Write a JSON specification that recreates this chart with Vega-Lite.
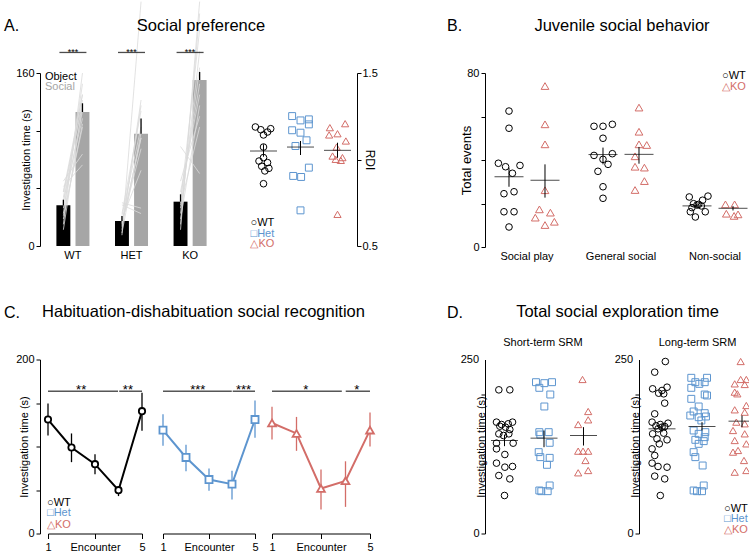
{
"$schema":"https://vega.github.io/schema/vega-lite/v6.json",
"padding":{"left":2,"top":0,"right":0,"bottom":0},
"config":{"font":"Liberation Sans","view":{"stroke":null},
"axis":{"grid":false,"domainColor":"#000","tickColor":"#000","labelColor":"#000","titleColor":"#000","labelFontSize":11,"titleFontSize":11,"titleFontWeight":"normal","tickSize":4,"labelPadding":2,"labelFlush":false,"labelOverlap":false,"labelBound":false,"labelFont":"Liberation Sans","titleFont":"Liberation Sans"},
"title":{"fontSize":16.5,"fontWeight":"normal","color":"#000","baseline":"alphabetic","frame":"group","offset":39,"font":"Liberation Sans"},
"text":{"font":"Liberation Sans","fontSize":11,"align":"left","baseline":"middle"}},
"datasets":{
"abar":[{"g":"WT","c":"Object","v":37.6,"hi":42.8},{"g":"WT","c":"Social","v":123.9,"hi":132},{"g":"HET","c":"Object","v":23.1,"hi":27.7},{"g":"HET","c":"Social","v":103.9,"hi":118},{"g":"KO","c":"Object","v":41,"hi":47.8},{"g":"KO","c":"Social","v":153.5,"hi":161}],
"alines":[
{"g":"WT","id":"w1","Object":20,"Social":160},{"g":"WT","id":"w2","Object":15,"Social":130},{"g":"WT","id":"w3","Object":30,"Social":150},{"g":"WT","id":"w4","Object":45,"Social":140},{"g":"WT","id":"w5","Object":55,"Social":75},{"g":"WT","id":"w6","Object":35,"Social":125},{"g":"WT","id":"w7","Object":60,"Social":85},{"g":"WT","id":"w8","Object":25,"Social":113},{"g":"WT","id":"w9","Object":40,"Social":135},{"g":"WT","id":"w10","Object":50,"Social":130},{"g":"WT","id":"w11","Object":28,"Social":110},{"g":"WT","id":"w12","Object":42,"Social":118},{"g":"WT","id":"w13","Object":50,"Social":140},
{"g":"HET","id":"h1","Object":10,"Social":226},{"g":"HET","id":"h2","Object":15,"Social":135},{"g":"HET","id":"h3","Object":20,"Social":100},{"g":"HET","id":"h4","Object":25,"Social":70},{"g":"HET","id":"h5","Object":30,"Social":125},{"g":"HET","id":"h6","Object":40,"Social":35},{"g":"HET","id":"h7","Object":38,"Social":30},{"g":"HET","id":"h8","Object":18,"Social":130},{"g":"HET","id":"h9","Object":22,"Social":90},{"g":"HET","id":"h10","Object":28,"Social":110},{"g":"HET","id":"h11","Object":12,"Social":105},{"g":"HET","id":"h12","Object":21,"Social":100},
{"g":"KO","id":"k1","Object":15,"Social":226},{"g":"KO","id":"k2","Object":20,"Social":215},{"g":"KO","id":"k3","Object":30,"Social":180},{"g":"KO","id":"k4","Object":35,"Social":165},{"g":"KO","id":"k5","Object":45,"Social":150},{"g":"KO","id":"k6","Object":50,"Social":140},{"g":"KO","id":"k7","Object":25,"Social":130},{"g":"KO","id":"k8","Object":60,"Social":120},{"g":"KO","id":"k9","Object":92,"Social":67},{"g":"KO","id":"k10","Object":40,"Social":200},{"g":"KO","id":"k11","Object":38,"Social":110}],
"rdi":[
{"g":"WT","j":-0.9,"v":1.188},{"g":"WT","j":0.8,"v":1.178},{"g":"WT","j":-0.3,"v":1.172},{"g":"WT","j":0.45,"v":1.159},{"g":"WT","j":0,"v":1.142},{"g":"WT","j":0,"v":1.072},{"g":"WT","j":0,"v":1.011},{"g":"WT","j":-0.5,"v":0.991},{"g":"WT","j":0.45,"v":0.982},{"g":"WT","j":-0.2,"v":0.961},{"g":"WT","j":0.6,"v":0.949},{"g":"WT","j":0.15,"v":0.934},{"g":"WT","j":0,"v":0.86},
{"g":"Het","j":-0.93,"v":1.251},{"g":"Het","j":0,"v":1.226},{"g":"Het","j":0.93,"v":1.232},{"g":"Het","j":0.93,"v":1.203},{"g":"Het","j":-0.93,"v":1.169},{"g":"Het","j":0,"v":1.155},{"g":"Het","j":0.67,"v":1.111},{"g":"Het","j":-0.56,"v":1.078},{"g":"Het","j":0.93,"v":0.953},{"g":"Het","j":-0.81,"v":0.905},{"g":"Het","j":0.07,"v":0.899},{"g":"Het","j":0,"v":0.706},
{"g":"KO","j":-0.85,"v":1.184},{"g":"KO","j":0.85,"v":1.207},{"g":"KO","j":-0.93,"v":1.142},{"g":"KO","j":0,"v":1.149},{"g":"KO","j":0.93,"v":1.107},{"g":"KO","j":-0.1,"v":1.072},{"g":"KO","j":-0.55,"v":1.02},{"g":"KO","j":0.55,"v":1.011},{"g":"KO","j":-0.2,"v":1.001},{"g":"KO","j":0.37,"v":0.995},{"g":"KO","j":0,"v":0.683}],
"rdim":[{"g":"WT","m":1.049,"lo":1.016,"hi":1.088},{"g":"Het","m":1.072,"lo":1.026,"hi":1.107},{"g":"KO","m":1.053,"lo":1.01,"hi":1.097}],
"bwt":[
{"b":"Social play","j":0,"v":62.5},{"b":"Social play","j":0,"v":54.6},{"b":"Social play","j":-0.59,"v":38.5},{"b":"Social play","j":-0.19,"v":36.9},{"b":"Social play","j":0.61,"v":37.5},{"b":"Social play","j":0.19,"v":33.9},{"b":"Social play","j":-0.28,"v":24.5},{"b":"Social play","j":0.28,"v":25.4},{"b":"Social play","j":-0.28,"v":16.2},{"b":"Social play","j":0.28,"v":16.2},{"b":"Social play","j":0,"v":9.2},
{"b":"General social","j":-0.5,"v":55.5},{"b":"General social","j":0,"v":55.5},{"b":"General social","j":0.52,"v":56.4},{"b":"General social","j":0,"v":50.0},{"b":"General social","j":-0.5,"v":42.1},{"b":"General social","j":0,"v":40.3},{"b":"General social","j":0.28,"v":38.0},{"b":"General social","j":0.52,"v":42.9},{"b":"General social","j":-0.28,"v":34.8},{"b":"General social","j":0,"v":27.7},{"b":"General social","j":0,"v":22.4},
{"b":"Non-social","j":-0.43,"v":23.0},{"b":"Non-social","j":0.61,"v":23.4},{"b":"Non-social","j":0.31,"v":21.5},{"b":"Non-social","j":-0.19,"v":19.9},{"b":"Non-social","j":0.09,"v":19.6},{"b":"Non-social","j":-0.37,"v":16.2},{"b":"Non-social","j":0.46,"v":16.2},{"b":"Non-social","j":-0.09,"v":13.8},{"b":"Non-social","j":0,"v":19.3},{"b":"Non-social","j":0.24,"v":18.9},{"b":"Non-social","j":-0.28,"v":18.1}],
"bko":[
{"b":"Social play","j":0,"v":74.0},{"b":"Social play","j":0,"v":56.4},{"b":"Social play","j":0,"v":47.2},{"b":"Social play","j":0,"v":26.1},{"b":"Social play","j":-0.31,"v":17.3},{"b":"Social play","j":0.3,"v":15.8},{"b":"Social play","j":-0.54,"v":13.5},{"b":"Social play","j":0,"v":10.1},{"b":"Social play","j":0.52,"v":11.6},
{"b":"General social","j":0,"v":64.1},{"b":"General social","j":0,"v":53.0},{"b":"General social","j":0,"v":47.2},{"b":"General social","j":0.43,"v":46.9},{"b":"General social","j":-0.22,"v":41.7},{"b":"General social","j":0.3,"v":36.5},{"b":"General social","j":-0.22,"v":36.9},{"b":"General social","j":0.3,"v":30.3},{"b":"General social","j":-0.22,"v":26.2},
{"b":"Non-social","j":-0.42,"v":19.6},{"b":"Non-social","j":0.09,"v":19.6},{"b":"Non-social","j":-0.37,"v":15.3},{"b":"Non-social","j":0.06,"v":14.3},{"b":"Non-social","j":0.28,"v":15.0}],
"bwm":[{"b":"Social play","m":32.3,"lo":27.7,"hi":36.5},{"b":"General social","m":42.5,"lo":38,"hi":45.7},{"b":"Non-social","m":18.9,"lo":17.9,"hi":19.9}],
"bkm":[{"b":"Social play","m":30.7,"lo":22.7,"hi":38},{"b":"General social","m":42.6,"lo":38.3,"hi":46},{"b":"Non-social","m":17.8,"lo":16.8,"hi":18.8}],
"cwt":[{"e":1,"m":131,"lo":112.6,"hi":149.4},{"e":2,"m":98.9,"lo":82,"hi":115},{"e":3,"m":79.7,"lo":68,"hi":91},{"e":4,"m":49.8,"lo":43,"hi":54},{"e":5,"m":140.6,"lo":118,"hi":161.7}],
"chet":[{"e":1,"m":118.8,"lo":100.8,"hi":137},{"e":2,"m":87.4,"lo":71.6,"hi":102},{"e":3,"m":62,"lo":49,"hi":74.7},{"e":4,"m":56.7,"lo":39,"hi":72},{"e":5,"m":131,"lo":110,"hi":153}],
"cko":[{"e":1,"m":127,"lo":108,"hi":145.6},{"e":2,"m":115,"lo":95,"hi":134},{"e":3,"m":51.7,"lo":27.6,"hi":73.6},{"e":4,"m":60.5,"lo":30.6,"hi":83},{"e":5,"m":118.8,"lo":100,"hi":139}],
"cswt":[{"x1":1,"x2":3.98,"xm":2.41,"s":"**"},{"x1":4.03,"x2":5,"xm":4.4,"s":"**"}],
"cshet":[{"x1":1,"x2":3.99,"xm":2.51,"s":"***"},{"x1":4.03,"x2":5,"xm":4.5,"s":"***"}],
"csko":[{"x1":1,"x2":3.85,"xm":2.38,"s":"*"},{"x1":4.01,"x2":5,"xm":4.46,"s":"*"}],
"d1":[
{"g":"WT","j":-0.63,"v":206.4},{"g":"WT","j":0.59,"v":206.4},{"g":"WT","j":-0.89,"v":160},{"g":"WT","j":0.89,"v":160},{"g":"WT","j":-0.33,"v":156.6},{"g":"WT","j":0.41,"v":157.6},{"g":"WT","j":0.11,"v":152.8},{"g":"WT","j":-0.52,"v":154.2},{"g":"WT","j":0.59,"v":149.4},{"g":"WT","j":-0.63,"v":143.2},{"g":"WT","j":0.48,"v":143.2},{"g":"WT","j":-0.11,"v":140.8},{"g":"WT","j":-0.89,"v":129.8},{"g":"WT","j":0.96,"v":129.8},{"g":"WT","j":-0.89,"v":121.6},{"g":"WT","j":0.04,"v":113.5},{"g":"WT","j":-0.89,"v":101.1},{"g":"WT","j":0.04,"v":95.3},{"g":"WT","j":0.89,"v":96.3},{"g":"WT","j":-0.63,"v":83.3},{"g":"WT","j":0.59,"v":78.5},{"g":"WT","j":0,"v":54.6},
{"g":"Het","j":-0.89,"v":217.4},{"g":"Het","j":0.04,"v":216},{"g":"Het","j":0.89,"v":217.4},{"g":"Het","j":-0.52,"v":209.3},{"g":"Het","j":0.7,"v":199.7},{"g":"Het","j":0.04,"v":182.5},{"g":"Het","j":-0.52,"v":145.6},{"g":"Het","j":0.52,"v":145.6},{"g":"Het","j":-0.41,"v":142.2},{"g":"Het","j":0.63,"v":130.3},{"g":"Het","j":-0.59,"v":116.9},{"g":"Het","j":-0.41,"v":109.7},{"g":"Het","j":0.63,"v":108.7},{"g":"Het","j":0.33,"v":98.7},{"g":"Het","j":0.63,"v":69},{"g":"Het","j":-0.52,"v":61.8},{"g":"Het","j":0.41,"v":60.8},{"g":"Het","j":-0.3,"v":60.8},
{"g":"KO","j":-0.11,"v":221.3},{"g":"KO","j":0.52,"v":175.3},{"g":"KO","j":0.52,"v":163.3},{"g":"KO","j":-0.59,"v":156.6},{"g":"KO","j":-0.59,"v":118.3},{"g":"KO","j":0.52,"v":118.3},{"g":"KO","j":-0.05,"v":118.3},{"g":"KO","j":0.22,"v":104.9},{"g":"KO","j":-0.59,"v":87.2},{"g":"KO","j":0.52,"v":90.5}],
"d1m":[{"g":"WT","m":133.6,"lo":125.5,"hi":142},{"g":"Het","m":137,"lo":124,"hi":148},{"g":"KO","m":140.8,"lo":126.4,"hi":152.8}],
"d2":[
{"g":"WT","j":0.37,"v":247.1},{"g":"WT","j":-0.81,"v":231.8},{"g":"WT","j":-1.04,"v":207.9},{"g":"WT","j":0.56,"v":210.2},{"g":"WT","j":0,"v":205.5},{"g":"WT","j":-0.37,"v":201.6},{"g":"WT","j":0.19,"v":200.7},{"g":"WT","j":0.3,"v":187.3},{"g":"WT","j":-0.81,"v":171.9},{"g":"WT","j":-1.1,"v":160},{"g":"WT","j":0.67,"v":158.5},{"g":"WT","j":-0.19,"v":156.6},{"g":"WT","j":-0.67,"v":154.7},{"g":"WT","j":0.3,"v":153.7},{"g":"WT","j":0,"v":152.8},{"g":"WT","j":-0.44,"v":150.4},{"g":"WT","j":-1.04,"v":143.2},{"g":"WT","j":0.19,"v":144.2},{"g":"WT","j":-0.56,"v":136},{"g":"WT","j":0.56,"v":134.6},{"g":"WT","j":-0.3,"v":128.8},{"g":"WT","j":-1.1,"v":121.6},{"g":"WT","j":-0.81,"v":112.1},{"g":"WT","j":-1.1,"v":101.1},{"g":"WT","j":0.56,"v":95.3},{"g":"WT","j":-0.44,"v":96.3},{"g":"WT","j":-0.81,"v":82.4},{"g":"WT","j":0.3,"v":78.5},{"g":"WT","j":-0.19,"v":54.6},
{"g":"Het","j":-1.19,"v":223.7},{"g":"Het","j":0.56,"v":223.7},{"g":"Het","j":-0.74,"v":217.4},{"g":"Het","j":0.3,"v":217.4},{"g":"Het","j":-0.3,"v":215},{"g":"Het","j":-1.19,"v":209.3},{"g":"Het","j":0.3,"v":199.7},{"g":"Het","j":0.56,"v":198.3},{"g":"Het","j":-1.19,"v":193.5},{"g":"Het","j":-0.37,"v":182.5},{"g":"Het","j":-0.93,"v":175.3},{"g":"Het","j":0.3,"v":172.9},{"g":"Het","j":-1.3,"v":169.5},{"g":"Het","j":0.44,"v":168.1},{"g":"Het","j":-0.37,"v":167.1},{"g":"Het","j":-0.07,"v":162.4},{"g":"Het","j":-0.93,"v":148},{"g":"Het","j":0.37,"v":145.6},{"g":"Het","j":-0.37,"v":143.2},{"g":"Het","j":0.3,"v":138.4},{"g":"Het","j":-0.74,"v":134.6},{"g":"Het","j":0.19,"v":132.7},{"g":"Het","j":-0.37,"v":128.8},{"g":"Het","j":-0.93,"v":116.9},{"g":"Het","j":-0.74,"v":109.7},{"g":"Het","j":0.07,"v":97.7},{"g":"Het","j":0.19,"v":69},{"g":"Het","j":-0.93,"v":61.8},{"g":"Het","j":0,"v":60.8},{"g":"Het","j":-0.56,"v":60.8},
{"g":"KO","j":-0.15,"v":247.1},{"g":"KO","j":-0.15,"v":221.3},{"g":"KO","j":0.48,"v":221.3},{"g":"KO","j":-0.81,"v":215},{"g":"KO","j":0.3,"v":214.1},{"g":"KO","j":-0.81,"v":203.1},{"g":"KO","j":-0.52,"v":200.7},{"g":"KO","j":0.48,"v":183.9},{"g":"KO","j":-0.81,"v":177.7},{"g":"KO","j":0.3,"v":174.3},{"g":"KO","j":-0.63,"v":160},{"g":"KO","j":0.3,"v":157.6},{"g":"KO","j":-1.0,"v":148},{"g":"KO","j":0.3,"v":143.2},{"g":"KO","j":-0.81,"v":133.6},{"g":"KO","j":0.48,"v":128.8},{"g":"KO","j":-0.44,"v":119.3},{"g":"KO","j":-1.0,"v":116.9},{"g":"KO","j":0.22,"v":104.9},{"g":"KO","j":-0.81,"v":88.1},{"g":"KO","j":0.48,"v":90.5}],
"d2m":[{"g":"WT","m":150.4,"lo":145.6,"hi":156.6},{"g":"Het","m":153.7,"lo":148,"hi":160},{"g":"KO","m":161.4,"lo":152.8,"hi":169.5}]
},
"spacing":42.5,
"resolve":{"scale":{"color":"independent","shape":"independent","size":"independent"}},
"vconcat":[
{"hconcat":[
{"width":38,"height":10,"data":{"values":[]},"mark":"point","title":{"text":"A.","anchor":"start","dx":2,"fontSize":16}},
{"width":183,"height":173,
 "layer":[
  {"data":{"name":"abar"},"mark":{"type":"bar"},
   "encoding":{
    "x":{"field":"g","type":"nominal","scale":{"type":"band","domain":["WT","HET","KO"],"paddingInner":0.436,"paddingOuter":0.28},"axis":{"title":null,"domain":false,"ticks":false,"labelAngle":0,"labelPadding":3,"labelOverlap":false}},
    "xOffset":{"field":"c","type":"nominal","scale":{"domain":["Object","Social"],"paddingInner":0.27,"paddingOuter":0}},
    "y":{"field":"v","type":"quantitative","scale":{"domain":[0,160],"nice":false},"axis":{"values":[0,53.333,106.667,160],"labelExpr":"datum.value==0||datum.value==160?datum.label:''","labelOverlap":false,"title":"Investigation time (s)","titlePadding":-16}},
    "color":{"field":"c","type":"nominal","scale":{"domain":["Object","Social"],"range":["#000000","#a6a6a6"]},"legend":null}}},
  {"data":{"name":"alines"},"transform":[{"fold":["Object","Social"],"as":["c","v"]}],"mark":{"type":"line","color":"#dadada","strokeWidth":0.8},
   "encoding":{"x":{"field":"g","type":"nominal"},"xOffset":{"field":"c","type":"nominal"},"y":{"field":"v","type":"quantitative"},"detail":{"field":"id"}}},
  {"data":{"name":"abar"},"mark":{"type":"rule","color":"black","strokeWidth":1.3},
   "encoding":{"x":{"field":"g","type":"nominal"},"xOffset":{"field":"c","type":"nominal"},"y":{"field":"v","type":"quantitative"},"y2":{"field":"hi"}}},
  {"data":{"values":[{"g":"WT"},{"g":"HET"},{"g":"KO"}]},"mark":{"type":"tick","color":"black","size":27,"thickness":1.3},
   "encoding":{"x":{"field":"g","type":"nominal"},"y":{"datum":179}}},
  {"data":{"values":[{"g":"WT"},{"g":"HET"},{"g":"KO"}]},"mark":{"type":"text","text":"***","fontSize":9,"align":"center","baseline":"alphabetic","dy":2.2},
   "encoding":{"x":{"field":"g","type":"nominal"},"y":{"datum":179}}},
  {"data":{"values":[{}]},"mark":{"type":"text","text":"Object","color":"black","dx":-28},"encoding":{"x":{"datum":"WT"},"y":{"datum":156}}},
  {"data":{"values":[{}]},"mark":{"type":"text","text":"Social","color":"#a6a6a6","dx":-28},"encoding":{"x":{"datum":"WT"},"y":{"datum":147}}}
 ]},
{"width":21,"height":10,"data":{"values":[]},"mark":"point","title":{"text":"Social preference","anchor":"middle","dx":-32.5}},
{"width":113,"height":173,
 "layer":[
  {"data":{"name":"rdi"},"mark":{"type":"point","filled":false,"strokeWidth":1,"opacity":1},
   "encoding":{
    "x":{"field":"g","type":"nominal","scale":{"type":"band","domain":["WT","Het","KO"],"paddingInner":0.514,"paddingOuter":0.284,"align":0.5},"axis":null},
    "xOffset":{"field":"j","type":"quantitative","scale":{"domain":[-1,1]}},
    "y":{"field":"v","type":"quantitative","scale":{"domain":[0.5,1.5],"nice":false,"zero":false},"axis":{"orient":"right","values":[0.5,1,1.5],"labelExpr":"datum.value==1?'':datum.label","labelOverlap":false,"title":"RDI","titleFontSize":12,"titlePadding":-15,"labelPadding":1}},
    "shape":{"field":"g","type":"nominal","scale":{"domain":["WT","Het","KO"],"range":["circle","square","triangle-up"]},"legend":null},
    "color":{"field":"g","type":"nominal","scale":{"domain":["WT","Het","KO"],"range":["#000000","#5d95cf","#d36d68"]},"legend":null},
    "size":{"field":"g","type":"ordinal","scale":{"domain":["WT","Het","KO"],"range":[44,52,60]},"legend":null}}},
  {"data":{"name":"rdim"},"mark":{"type":"tick","color":"black","size":27,"thickness":1},"encoding":{"x":{"field":"g","type":"nominal"},"y":{"field":"m","type":"quantitative"}}},
  {"data":{"name":"rdim"},"mark":{"type":"rule","color":"black","strokeWidth":1},"encoding":{"x":{"field":"g","type":"nominal"},"y":{"field":"lo","type":"quantitative"},"y2":{"field":"hi"}}},
  {"data":{"values":[{}]},"mark":{"type":"text","text":"○WT","color":"black","dx":-13},"encoding":{"x":{"datum":"WT"},"y":{"datum":0.633}}},
  {"data":{"values":[{}]},"mark":{"type":"text","text":"□Het","color":"#5d95cf","dx":-13},"encoding":{"x":{"datum":"WT"},"y":{"datum":0.572}}},
  {"data":{"values":[{}]},"mark":{"type":"text","text":"△KO","color":"#d36d68","dx":-13},"encoding":{"x":{"datum":"WT"},"y":{"datum":0.512}}}
 ]},
{"width":64,"height":10,"data":{"values":[]},"mark":"point","title":{"text":"B.","anchor":"start","dx":90,"fontSize":16}},
{"width":64,"height":10,"data":{"values":[]},"mark":"point","title":{"text":"Juvenile social behavior","anchor":"middle","dx":169}},
{"width":266,"height":174,
 "resolve":{"scale":{"xOffset":"independent"}},
 "layer":[
  {"data":{"name":"bwt"},"mark":{"type":"point","shape":"circle","filled":false,"color":"black","strokeWidth":1,"size":44,"opacity":1},
   "encoding":{
    "x":{"field":"b","type":"nominal","scale":{"type":"band","domain":["Social play","General social","Non-social"],"paddingInner":0.234,"paddingOuter":0.0319,"align":1},"axis":{"title":null,"domain":false,"ticks":false,"labelAngle":0,"labelPadding":3,"labelOverlap":false}},
    "xOffset":{"field":"j","type":"quantitative","scale":{"domain":[-1,3]}},
    "y":{"field":"v","type":"quantitative","scale":{"domain":[0,80],"nice":false},"axis":{"values":[0,20,40,60,80],"labelExpr":"datum.value==0||datum.value==80?datum.label:''","labelOverlap":false,"title":"Total events","titleFontSize":13,"titlePadding":-7}}}},
  {"data":{"name":"bko"},"mark":{"type":"point","shape":"triangle-up","filled":false,"color":"#d36d68","strokeWidth":1,"size":60,"opacity":1},
   "encoding":{"x":{"field":"b","type":"nominal"},"xOffset":{"field":"j","type":"quantitative","scale":{"domain":[-3,1]}},"y":{"field":"v","type":"quantitative"}}},
  {"data":{"name":"bwm"},"mark":{"type":"tick","color":"black","size":29,"thickness":1},
   "encoding":{"x":{"field":"b","type":"nominal"},"xOffset":{"datum":0,"type":"quantitative","scale":{"domain":[-1,3]}},"y":{"field":"m","type":"quantitative"}}},
  {"data":{"name":"bwm"},"mark":{"type":"rule","color":"black","strokeWidth":1},
   "encoding":{"x":{"field":"b","type":"nominal"},"xOffset":{"datum":0,"type":"quantitative","scale":{"domain":[-1,3]}},"y":{"field":"lo","type":"quantitative"},"y2":{"field":"hi"}}},
  {"data":{"name":"bkm"},"mark":{"type":"tick","color":"black","size":29,"thickness":1},
   "encoding":{"x":{"field":"b","type":"nominal"},"xOffset":{"datum":0,"type":"quantitative","scale":{"domain":[-3,1]}},"y":{"field":"m","type":"quantitative"}}},
  {"data":{"name":"bkm"},"mark":{"type":"rule","color":"black","strokeWidth":1},
   "encoding":{"x":{"field":"b","type":"nominal"},"xOffset":{"datum":0,"type":"quantitative","scale":{"domain":[-3,1]}},"y":{"field":"lo","type":"quantitative"},"y2":{"field":"hi"}}},
  {"data":{"values":[{}]},"mark":{"type":"text","text":"○WT","color":"black","dx":7},"encoding":{"x":{"datum":"Non-social"},"y":{"datum":78.6}}},
  {"data":{"values":[{}]},"mark":{"type":"text","text":"△KO","color":"#d36d68","dx":7},"encoding":{"x":{"datum":"Non-social"},"y":{"datum":73.6}}}
 ]}
],"bounds":"flush","spacing":0,"resolve":{"scale":{"color":"independent","shape":"independent","size":"independent"}}},
{"hconcat":[
{"width":46,"height":10,"data":{"values":[]},"mark":"point","title":{"text":"C.","anchor":"start","dx":2,"fontSize":16,"offset":39}},
{"width":94,"height":174,
 "layer":[
  {"data":{"name":"cwt"},"mark":{"type":"rule","color":"black","strokeWidth":1.3},
   "encoding":{
    "x":{"field":"e","type":"quantitative","scale":{"domain":[1,5],"nice":false,"zero":false},"axis":{"values":[1,2,3,4,5],"labelExpr":"datum.value==1?'1':datum.value==3?'Encounter':datum.value==5?'5':''","labelOverlap":false,"title":null,"tickSize":5,"labelPadding":3}},
    "y":{"field":"lo","type":"quantitative","scale":{"domain":[0,200],"nice":false},"axis":{"values":[0,50,100,150,200],"labelExpr":"datum.value==0||datum.value==200?datum.label:''","labelOverlap":false,"offset":8,"title":"Investigation time (s)","titlePadding":-14}},
    "y2":{"field":"hi"}}},
  {"data":{"name":"cwt"},"mark":{"type":"line","color":"black","strokeWidth":2},"encoding":{"x":{"field":"e","type":"quantitative"},"y":{"field":"m","type":"quantitative"}}},
  {"data":{"name":"cwt"},"mark":{"type":"point","shape":"circle","filled":true,"fill":"white","stroke":"black","strokeWidth":1.8,"size":40,"opacity":1},"encoding":{"x":{"field":"e","type":"quantitative"},"y":{"field":"m","type":"quantitative"}}},
  {"data":{"name":"cswt"},"mark":{"type":"rule","color":"black","strokeWidth":1},"encoding":{"x":{"field":"x1","type":"quantitative"},"x2":{"field":"x2"},"y":{"datum":163.6}}},
  {"data":{"name":"cswt"},"mark":{"type":"text","fontSize":13,"align":"center","baseline":"alphabetic","dy":2.6},"encoding":{"x":{"field":"xm","type":"quantitative"},"y":{"datum":163.6},"text":{"field":"s"}}},
  {"data":{"values":[{}]},"mark":{"type":"text","text":"○WT","color":"black","dx":-1},"encoding":{"x":{"datum":1},"y":{"datum":34.5}}},
  {"data":{"values":[{}]},"mark":{"type":"text","text":"□Het","color":"#5d95cf","dx":-1},"encoding":{"x":{"datum":1},"y":{"datum":23}}},
  {"data":{"values":[{}]},"mark":{"type":"text","text":"△KO","color":"#d36d68","dx":-1},"encoding":{"x":{"datum":1},"y":{"datum":10.3}}}
 ]},
{"width":21,"height":10,"data":{"values":[]},"mark":"point","title":{"text":"Habituation-dishabituation social recognition","anchor":"middle","dx":51,"offset":39}},
{"width":92,"height":174,
 "layer":[
  {"data":{"name":"chet"},"mark":{"type":"rule","color":"#5d95cf","strokeWidth":1.3},
   "encoding":{
    "x":{"field":"e","type":"quantitative","scale":{"domain":[1,5],"nice":false,"zero":false},"axis":{"values":[1,2,3,4,5],"labelExpr":"datum.value==1?'1':datum.value==3?'Encounter':datum.value==5?'5':''","labelOverlap":false,"title":null,"tickSize":5,"labelPadding":3}},
    "y":{"field":"lo","type":"quantitative","scale":{"domain":[0,200],"nice":false},"axis":null},
    "y2":{"field":"hi"}}},
  {"data":{"name":"chet"},"mark":{"type":"line","color":"#5d95cf","strokeWidth":2},"encoding":{"x":{"field":"e","type":"quantitative"},"y":{"field":"m","type":"quantitative"}}},
  {"data":{"name":"chet"},"mark":{"type":"point","shape":"square","filled":true,"fill":"white","stroke":"#5d95cf","strokeWidth":1.8,"size":50,"opacity":1},"encoding":{"x":{"field":"e","type":"quantitative"},"y":{"field":"m","type":"quantitative"}}},
  {"data":{"name":"cshet"},"mark":{"type":"rule","color":"black","strokeWidth":1},"encoding":{"x":{"field":"x1","type":"quantitative"},"x2":{"field":"x2"},"y":{"datum":163.6}}},
  {"data":{"name":"cshet"},"mark":{"type":"text","fontSize":13,"align":"center","baseline":"alphabetic","dy":2.6},"encoding":{"x":{"field":"xm","type":"quantitative"},"y":{"datum":163.6},"text":{"field":"s"}}}
 ]},
{"width":17,"height":10,"data":{"values":[]},"mark":"point"},
{"width":98,"height":174,
 "layer":[
  {"data":{"name":"cko"},"mark":{"type":"rule","color":"#d36d68","strokeWidth":1.3},
   "encoding":{
    "x":{"field":"e","type":"quantitative","scale":{"domain":[1,5],"nice":false,"zero":false},"axis":{"values":[1,2,3,4,5],"labelExpr":"datum.value==1?'1':datum.value==3?'Encounter':datum.value==5?'5':''","labelOverlap":false,"title":null,"tickSize":5,"labelPadding":3}},
    "y":{"field":"lo","type":"quantitative","scale":{"domain":[0,200],"nice":false},"axis":null},
    "y2":{"field":"hi"}}},
  {"data":{"name":"cko"},"mark":{"type":"line","color":"#d36d68","strokeWidth":2},"encoding":{"x":{"field":"e","type":"quantitative"},"y":{"field":"m","type":"quantitative"}}},
  {"data":{"name":"cko"},"mark":{"type":"point","shape":"triangle-up","filled":true,"fill":"white","stroke":"#d36d68","strokeWidth":1.8,"size":60,"opacity":1},"encoding":{"x":{"field":"e","type":"quantitative"},"y":{"field":"m","type":"quantitative"}}},
  {"data":{"name":"csko"},"mark":{"type":"rule","color":"black","strokeWidth":1},"encoding":{"x":{"field":"x1","type":"quantitative"},"x2":{"field":"x2"},"y":{"datum":163.6}}},
  {"data":{"name":"csko"},"mark":{"type":"text","fontSize":13,"align":"center","baseline":"alphabetic","dy":2.6},"encoding":{"x":{"field":"xm","type":"quantitative"},"y":{"datum":163.6},"text":{"field":"s"}}}
 ]},
{"width":57,"height":10,"data":{"values":[]},"mark":"point","title":{"text":"D.","anchor":"start","dx":77,"fontSize":16,"offset":39}},
{"width":58,"height":10,"data":{"values":[]},"mark":"point","title":{"text":"Total social exploration time","anchor":"middle","dx":161.5,"offset":39}},
{"width":118,"height":174,
 "layer":[
  {"data":{"name":"d1"},"mark":{"type":"point","filled":false,"strokeWidth":1,"opacity":1},
   "encoding":{
    "x":{"field":"g","type":"nominal","scale":{"type":"band","domain":["WT","Het","KO"],"paddingInner":0.544,"paddingOuter":0.266,"align":0.5},"axis":null},
    "xOffset":{"field":"j","type":"quantitative","scale":{"domain":[-1,1]}},
    "y":{"field":"v","type":"quantitative","scale":{"domain":[0,250],"nice":false},"axis":{"values":[0,50,100,150,200,250],"labelExpr":"datum.value<1?datum.label:''","labelOverlap":false,"labelBound":false,"labelFlush":false,"title":"Investigation time (s)","titlePadding":-14}},
    "shape":{"field":"g","type":"nominal","scale":{"domain":["WT","Het","KO"],"range":["circle","square","triangle-up"]},"legend":null},
    "color":{"field":"g","type":"nominal","scale":{"domain":["WT","Het","KO"],"range":["#000000","#5d95cf","#d36d68"]},"legend":null},
    "size":{"field":"g","type":"ordinal","scale":{"domain":["WT","Het","KO"],"range":[44,52,60]},"legend":null}}},
  {"data":{"name":"d1m"},"mark":{"type":"tick","color":"black","size":27,"thickness":1},"encoding":{"x":{"field":"g","type":"nominal"},"y":{"field":"m","type":"quantitative"}}},
  {"data":{"name":"d1m"},"mark":{"type":"rule","color":"black","strokeWidth":1},"encoding":{"x":{"field":"g","type":"nominal"},"y":{"field":"lo","type":"quantitative"},"y2":{"field":"hi"}}},
  {"data":{"values":[{}]},"mark":{"type":"text","text":"250","color":"black","align":"right","baseline":"middle","dx":-25.5},"encoding":{"x":{"datum":"WT"},"y":{"datum":250}}},
  {"data":{"values":[{}]},"mark":{"type":"text","text":"Short-term SRM","color":"black","align":"center","baseline":"alphabetic","dx":-1},"encoding":{"x":{"datum":"Het"},"y":{"datum":268.7}}}
 ]},
{"width":36,"height":10,"data":{"values":[]},"mark":"point"},
{"width":112,"height":174,
 "layer":[
  {"data":{"name":"d2"},"mark":{"type":"point","filled":false,"strokeWidth":1,"opacity":1},
   "encoding":{
    "x":{"field":"g","type":"nominal","scale":{"type":"band","domain":["WT","Het","KO"],"paddingInner":0.55,"paddingOuter":0.175,"align":1},"axis":null},
    "xOffset":{"field":"j","type":"quantitative","scale":{"domain":[-1,1]}},
    "y":{"field":"v","type":"quantitative","scale":{"domain":[0,250],"nice":false},"axis":{"values":[0,50,100,150,200,250],"labelExpr":"datum.value<1?datum.label:''","labelOverlap":false,"labelBound":false,"labelFlush":false,"title":"Investigation time (s)","titlePadding":-14}},
    "shape":{"field":"g","type":"nominal","scale":{"domain":["WT","Het","KO"],"range":["circle","square","triangle-up"]},"legend":null},
    "color":{"field":"g","type":"nominal","scale":{"domain":["WT","Het","KO"],"range":["#000000","#5d95cf","#d36d68"]},"legend":null},
    "size":{"field":"g","type":"ordinal","scale":{"domain":["WT","Het","KO"],"range":[44,52,60]},"legend":null}}},
  {"data":{"name":"d2m"},"mark":{"type":"tick","color":"black","size":27,"thickness":1},"encoding":{"x":{"field":"g","type":"nominal"},"y":{"field":"m","type":"quantitative"}}},
  {"data":{"name":"d2m"},"mark":{"type":"rule","color":"black","strokeWidth":1},"encoding":{"x":{"field":"g","type":"nominal"},"y":{"field":"lo","type":"quantitative"},"y2":{"field":"hi"}}},
  {"data":{"values":[{}]},"mark":{"type":"text","text":"250","color":"black","align":"right","baseline":"middle","dx":-29},"encoding":{"x":{"datum":"WT"},"y":{"datum":250}}},
  {"data":{"values":[{}]},"mark":{"type":"text","text":"Long-term SRM","color":"black","align":"center","baseline":"alphabetic","dx":-4.5},"encoding":{"x":{"datum":"Het"},"y":{"datum":268.7}}},
  {"data":{"values":[{}]},"mark":{"type":"text","text":"○WT","color":"black","dx":-18},"encoding":{"x":{"datum":"KO"},"y":{"datum":35.9}}},
  {"data":{"values":[{}]},"mark":{"type":"text","text":"□Het","color":"#5d95cf","dx":-18},"encoding":{"x":{"datum":"KO"},"y":{"datum":20.8}}},
  {"data":{"values":[{}]},"mark":{"type":"text","text":"△KO","color":"#d36d68","dx":-18},"encoding":{"x":{"datum":"KO"},"y":{"datum":5.7}}}
 ]}
],"bounds":"flush","spacing":0,"resolve":{"scale":{"color":"independent","shape":"independent","size":"independent"}}}
]
}
